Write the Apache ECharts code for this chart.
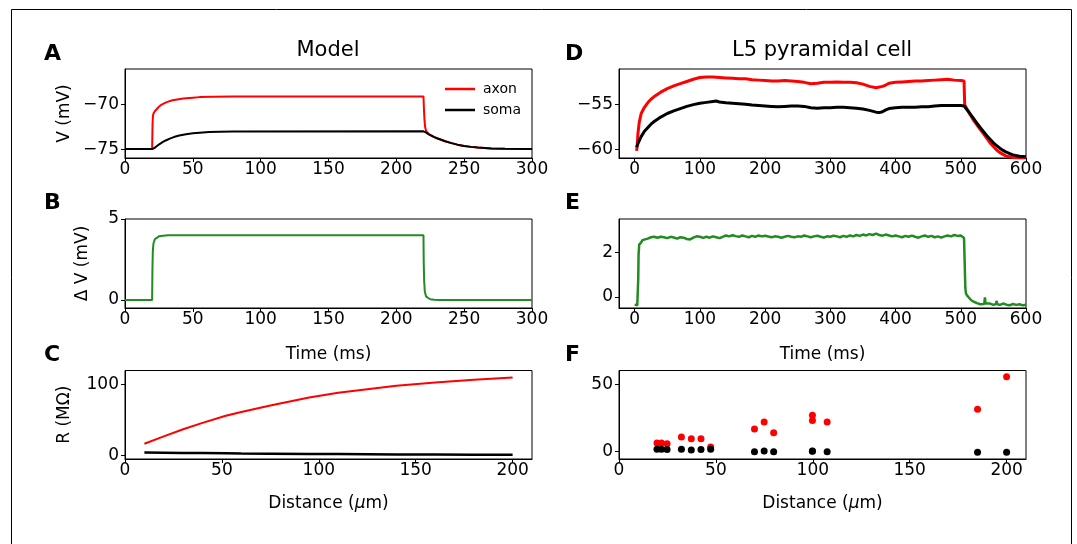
<!DOCTYPE html>
<html><head><meta charset="utf-8">
<script src="https://cdn.jsdelivr.net/npm/echarts@6/dist/echarts.min.js"></script>
<style>html,body{margin:0;background:#fff}#c{width:1077px;height:544px}</style>
</head><body><div id="c"></div>
<script>
// ---- Panel A (model, V vs time) ----
const axonT = [0,20,20.3,20.6,21,22,23,24.6,27,30.7,35,43,50,55,65,80,220,220.3,220.7,221.2,222,223,224,226,228,230,233,236,240,245,250,255,260,270,280,300];
const axonV = [-75,-75,-72.2,-71.3,-71.0,-70.75,-70.55,-70.3,-70.0,-69.72,-69.52,-69.32,-69.22,-69.16,-69.11,-69.08,-69.08,-70.3,-71.6,-72.5,-73.0,-73.15,-73.33,-73.5,-73.65,-73.78,-73.95,-74.12,-74.3,-74.5,-74.64,-74.75,-74.83,-74.92,-74.97,-75];
const somaT = [0,20,21,22,24,26,28,30,33,36,40,45,50,55,62,70,80,220,222,224,226,228,230,233,236,240,245,250,255,260,270,280,300];
const somaV = [-75,-75,-74.95,-74.85,-74.6,-74.38,-74.2,-74.03,-73.82,-73.65,-73.48,-73.33,-73.23,-73.15,-73.08,-73.04,-73.01,-73.0,-73.15,-73.35,-73.5,-73.65,-73.78,-73.95,-74.12,-74.3,-74.5,-74.64,-74.75,-74.83,-74.92,-74.97,-75];
// ---- Panel B (model, delta V) ----
const bT = [0,20,20.2,20.5,21,22,23,25,28,32,220,220.2,220.5,221,222,223,225,228,232,300];
const bV = [0,0,1.8,3.0,3.5,3.75,3.85,3.93,3.97,4.0,4.0,2.3,1.2,0.5,0.2,0.1,0.04,0.01,0,0];
// ---- Panel C (model, resistance vs distance) ----
const cDist = [10,20,30,40,52,60,75,95,110,125,140,160,180,200];
const cAxon = [16.5,27,37,46,56,61.5,70.5,82,88.5,93.5,98.5,103,107,110];
const cSoma = [4.2,3.9,3.6,3.3,3.0,2.8,2.5,2.1,1.9,1.7,1.5,1.3,1.15,1.0];
// ---- Panel D (L5 cell, V vs time) ----
const dAxonT = [3,4,5,7,10,15,20,25,30,40,50,60,70,80,90,100,110,120,130,140,150,160,170,180,190,200,210,220,230,240,250,260,270,280,290,300,310,320,330,340,350,360,370,380,385,390,400,410,420,430,440,450,460,470,480,490,500,505,506,510,515,520,525,530,535,540,545,550,555,560,565,570,580,590,600];
const dAxonV = [-60.2,-59.5,-58.3,-57.0,-56.0,-55.3,-54.8,-54.4,-54.1,-53.6,-53.2,-52.9,-52.65,-52.4,-52.15,-51.95,-51.9,-51.9,-51.95,-52.0,-52.05,-52.1,-52.1,-52.2,-52.25,-52.3,-52.35,-52.35,-52.3,-52.35,-52.4,-52.5,-52.65,-52.6,-52.5,-52.5,-52.45,-52.5,-52.5,-52.55,-52.7,-52.95,-53.1,-52.95,-52.8,-52.6,-52.5,-52.45,-52.4,-52.35,-52.35,-52.3,-52.25,-52.2,-52.15,-52.25,-52.3,-52.35,-55.0,-55.6,-56.2,-56.8,-57.3,-57.8,-58.3,-58.8,-59.3,-59.7,-60.1,-60.4,-60.6,-60.8,-60.95,-61.0,-61.0];
const dSomaT = [3,5,8,10,15,20,25,30,40,50,60,70,80,90,100,110,120,125,130,140,150,160,170,180,190,200,210,220,230,240,250,260,270,280,290,300,310,320,330,340,350,360,370,375,380,385,390,400,410,420,430,440,450,460,470,480,490,500,505,510,515,520,525,530,535,540,545,550,555,560,565,570,575,580,590,600];
const dSomaV = [-59.8,-59.4,-58.9,-58.6,-58.0,-57.6,-57.2,-56.9,-56.4,-56.0,-55.7,-55.45,-55.2,-55.0,-54.85,-54.75,-54.65,-54.6,-54.7,-54.8,-54.85,-54.9,-54.95,-55.05,-55.1,-55.15,-55.2,-55.25,-55.2,-55.15,-55.15,-55.2,-55.35,-55.4,-55.35,-55.35,-55.3,-55.3,-55.35,-55.4,-55.5,-55.65,-55.85,-55.9,-55.8,-55.6,-55.45,-55.35,-55.3,-55.3,-55.3,-55.25,-55.25,-55.15,-55.1,-55.1,-55.1,-55.1,-55.15,-55.6,-56.1,-56.6,-57.1,-57.6,-58.05,-58.5,-58.9,-59.3,-59.6,-59.9,-60.15,-60.35,-60.5,-60.65,-60.8,-60.85];
// ---- Panel E (L5 cell, delta V) ----
const eT = [0,2,4,5,5.5,6,7,8,10,12,15,20,25,30,35,40,45,50,55,60,65,70,75,80,85,90,95,100,105,110,115,120,125,130,135,140,145,150,155,160,165,170,175,180,185,190,195,200,205,210,215,220,225,230,235,240,245,250,255,260,265,270,275,280,285,290,295,300,305,310,315,320,325,330,335,340,345,350,355,360,365,370,375,380,385,390,395,400,405,410,415,420,425,430,435,440,445,450,455,460,465,470,475,480,485,490,495,500,503,505,506,507,508,510,513,516,520,525,530,533,536,537,538,540,545,550,554,555,556,560,565,570,575,580,585,590,595,600];
const eV = [-0.35,-0.3,-0.38,-0.33,0.8,1.9,2.35,2.42,2.45,2.55,2.6,2.62,2.68,2.7,2.66,2.7,2.68,2.64,2.7,2.67,2.62,2.68,2.66,2.6,2.58,2.66,2.72,2.7,2.65,2.7,2.66,2.72,2.68,2.64,2.7,2.76,2.72,2.77,2.73,2.7,2.76,2.72,2.68,2.74,2.7,2.76,2.72,2.75,2.71,2.68,2.72,2.7,2.66,2.7,2.74,2.7,2.68,2.72,2.7,2.76,2.72,2.68,2.72,2.75,2.7,2.67,2.72,2.7,2.75,2.72,2.68,2.74,2.7,2.76,2.72,2.78,2.74,2.8,2.76,2.82,2.78,2.84,2.78,2.75,2.8,2.76,2.72,2.76,2.72,2.68,2.74,2.7,2.75,2.7,2.66,2.72,2.76,2.7,2.74,2.68,2.72,2.66,2.72,2.76,2.72,2.78,2.74,2.76,2.7,2.65,1.5,0.4,0.15,0.05,-0.05,-0.15,-0.22,-0.28,-0.33,-0.3,-0.32,-0.02,-0.3,-0.35,-0.3,-0.36,-0.32,-0.18,-0.33,-0.36,-0.3,-0.35,-0.38,-0.32,-0.36,-0.33,-0.38,-0.35];
// ---- Panel F (L5 cell, resistance vs distance) ----
const fDist = [19.6,21.9,24.8,32.2,37.3,42.3,47.3,69.9,74.9,79.8,99.8,99.8,107.4,185,200];
const fAxon = [6.4,6.4,5.9,11.0,9.6,9.6,3.4,16.9,22.1,14.0,27.2,23.3,22.1,31.6,55.9];
const fSoma = [1.7,1.7,1.5,1.7,1.2,1.5,1.7,0,0.5,0,0.5,0.2,0,-0.5,-0.5];
// ---- tick values ----
const ticksA_x = [0,50,100,150,200,250,300], ticksA_y = [-75,-70];
const ticksB_y = [0,5];
const ticksC_x = [0,50,100,150,200], ticksC_y = [0,100];
const ticksD_x = [0,100,200,300,400,500,600], ticksD_y = [-60,-55];
const ticksE_y = [0,2];
const ticksF_y = [0,50];

const FONT = 'DejaVu Sans';
const RED = '#ff0000', BLACK = '#000000', GREEN = '#228b22';
const zip = (xs, ys) => xs.map((x, i) => [x, ys[i]]);
const fmt = v => (v < 0 ? '\u2212' : '') + Math.abs(v);

const L = 125, R = 619, W = 407;
const rows = [{top: 69, height: 89}, {top: 219, height: 89}, {top: 370.5, height: 88.5}];
const grids = [];
[L, R].forEach(left => rows.forEach(r => grids.push({left: left, top: r.top, width: W, height: r.height,
  show: true, borderColor: '#000', borderWidth: 1, backgroundColor: 'transparent', containLabel: false})));

function xAx(i, min, max, ticks, name, gap) {
  return {
    type: 'value', gridIndex: i, min: min, max: max,
    splitLine: {show: false},
    axisLine: {show: true, onZero: false, lineStyle: {color: '#000', width: 1}},
    axisTick: {show: true, inside: false, length: 4, customValues: ticks, lineStyle: {color: '#000', width: 1}},
    axisLabel: {customValues: ticks, formatter: fmt, fontFamily: FONT, fontSize: 17, color: '#000', margin: 3},
    name: name || '', nameLocation: 'middle', nameGap: gap || 36,
    nameTextStyle: {fontFamily: FONT, fontSize: 17, color: '#000',
      rich: {i: {fontFamily: FONT, fontStyle: 'italic', fontSize: 17, color: '#000'}}}
  };
}
function yAx(i, min, max, ticks, name, gap) {
  return {
    type: 'value', gridIndex: i, min: min, max: max,
    splitLine: {show: false},
    axisLine: {show: true, onZero: false, lineStyle: {color: '#000', width: 1}},
    axisTick: {show: true, inside: false, length: 4, customValues: ticks, lineStyle: {color: '#000', width: 1}},
    axisLabel: {customValues: ticks, formatter: fmt, fontFamily: FONT, fontSize: 17, color: '#000', margin: 6},
    name: name || '', nameLocation: 'middle', nameGap: gap || 50, nameRotate: 90,
    nameTextStyle: {fontFamily: FONT, fontSize: 17, color: '#000'}
  };
}

const xAxes = [
  xAx(0, 0, 300, ticksA_x),
  xAx(1, 0, 300, ticksA_x, 'Time (ms)', 38),
  xAx(2, 0, 210, ticksC_x, 'Distance ({i|\u03bc}m)', 36),
  xAx(3, -24, 600, ticksD_x),
  xAx(4, -24, 600, ticksD_x, 'Time (ms)', 38),
  xAx(5, 0, 210, ticksC_x, 'Distance ({i|\u03bc}m)', 36)
];
const yAxes = [
  yAx(0, -76, -66, ticksA_y, 'V (mV)', 52),
  yAx(1, -0.5, 5, ticksB_y, '\u0394 V (mV)', 34),
  yAx(2, -5, 120, ticksC_y, 'R (M\u03a9)', 52),
  yAx(3, -61, -51, ticksD_y),
  yAx(4, -0.5, 3.5, ticksE_y),
  yAx(5, -5.5, 60.5, ticksF_y)
];

function line(name, i, data, color, width) {
  return {type: 'line', name: name, xAxisIndex: i, yAxisIndex: i, data: data, showSymbol: false, symbol: 'none',
    lineStyle: {color: color, width: width}, itemStyle: {color: color}, animation: false, clip: true};
}
function dots(name, i, data, color) {
  return {type: 'scatter', name: name, xAxisIndex: i, yAxisIndex: i, data: data, symbolSize: 7,
    itemStyle: {color: color, opacity: 1}, animation: false};
}

const series = [
  line('axon', 0, zip(axonT, axonV), RED, 2),
  line('soma', 0, zip(somaT, somaV), BLACK, 2),
  line('dV model', 1, zip(bT, bV), GREEN, 2),
  line('R axon model', 2, zip(cDist, cAxon), RED, 2),
  line('R soma model', 2, zip(cDist, cSoma), BLACK, 2.5),
  line('axon L5', 3, zip(dAxonT, dAxonV), RED, 3),
  line('soma L5', 3, zip(dSomaT, dSomaV), BLACK, 3),
  line('dV L5', 4, zip(eT, eV), GREEN, 2.5),
  dots('R axon L5', 5, zip(fDist, fAxon), RED),
  dots('R soma L5', 5, zip(fDist, fSoma), BLACK)
];

const txt = (x, y, s, size, weight, align) => ({type: 'text', x: x, y: y,
  style: {text: s, font: (weight || 'normal') + ' ' + size + 'px "' + FONT + '"', fill: '#000',
    textAlign: align || 'left', textVerticalAlign: 'middle'}});

const option = {
  backgroundColor: '#fff',
  animation: false,
  grid: grids,
  xAxis: xAxes,
  yAxis: yAxes,
  series: series,
  legend: {data: ['axon', 'soma'], orient: 'vertical', left: 440, top: 76, itemWidth: 30, itemHeight: 2.5,
    icon: 'rect', itemGap: 5, textStyle: {fontFamily: FONT, fontSize: 14, color: '#000', lineHeight: 16, padding: [0, 0, 0, 3]}},
  graphic: [
    {type: 'rect', shape: {x: 11.5, y: 9.5, width: 1060, height: 600}, style: {fill: 'none', stroke: '#000', lineWidth: 1}, silent: true},
    txt(44, 54, 'A', 22, 'bold'),
    txt(44, 203, 'B', 22, 'bold'),
    txt(44, 355, 'C', 22, 'bold'),
    txt(565, 54, 'D', 22, 'bold'),
    txt(565, 203, 'E', 22, 'bold'),
    txt(565, 355, 'F', 22, 'bold'),
    txt(328, 51, 'Model', 21, 'normal', 'center'),
    txt(822, 51, 'L5 pyramidal cell', 21, 'normal', 'center')
  ]
};
const chart = echarts.init(document.getElementById('c'), null, {renderer: 'canvas'});
chart.setOption(option);
</script></body></html>
